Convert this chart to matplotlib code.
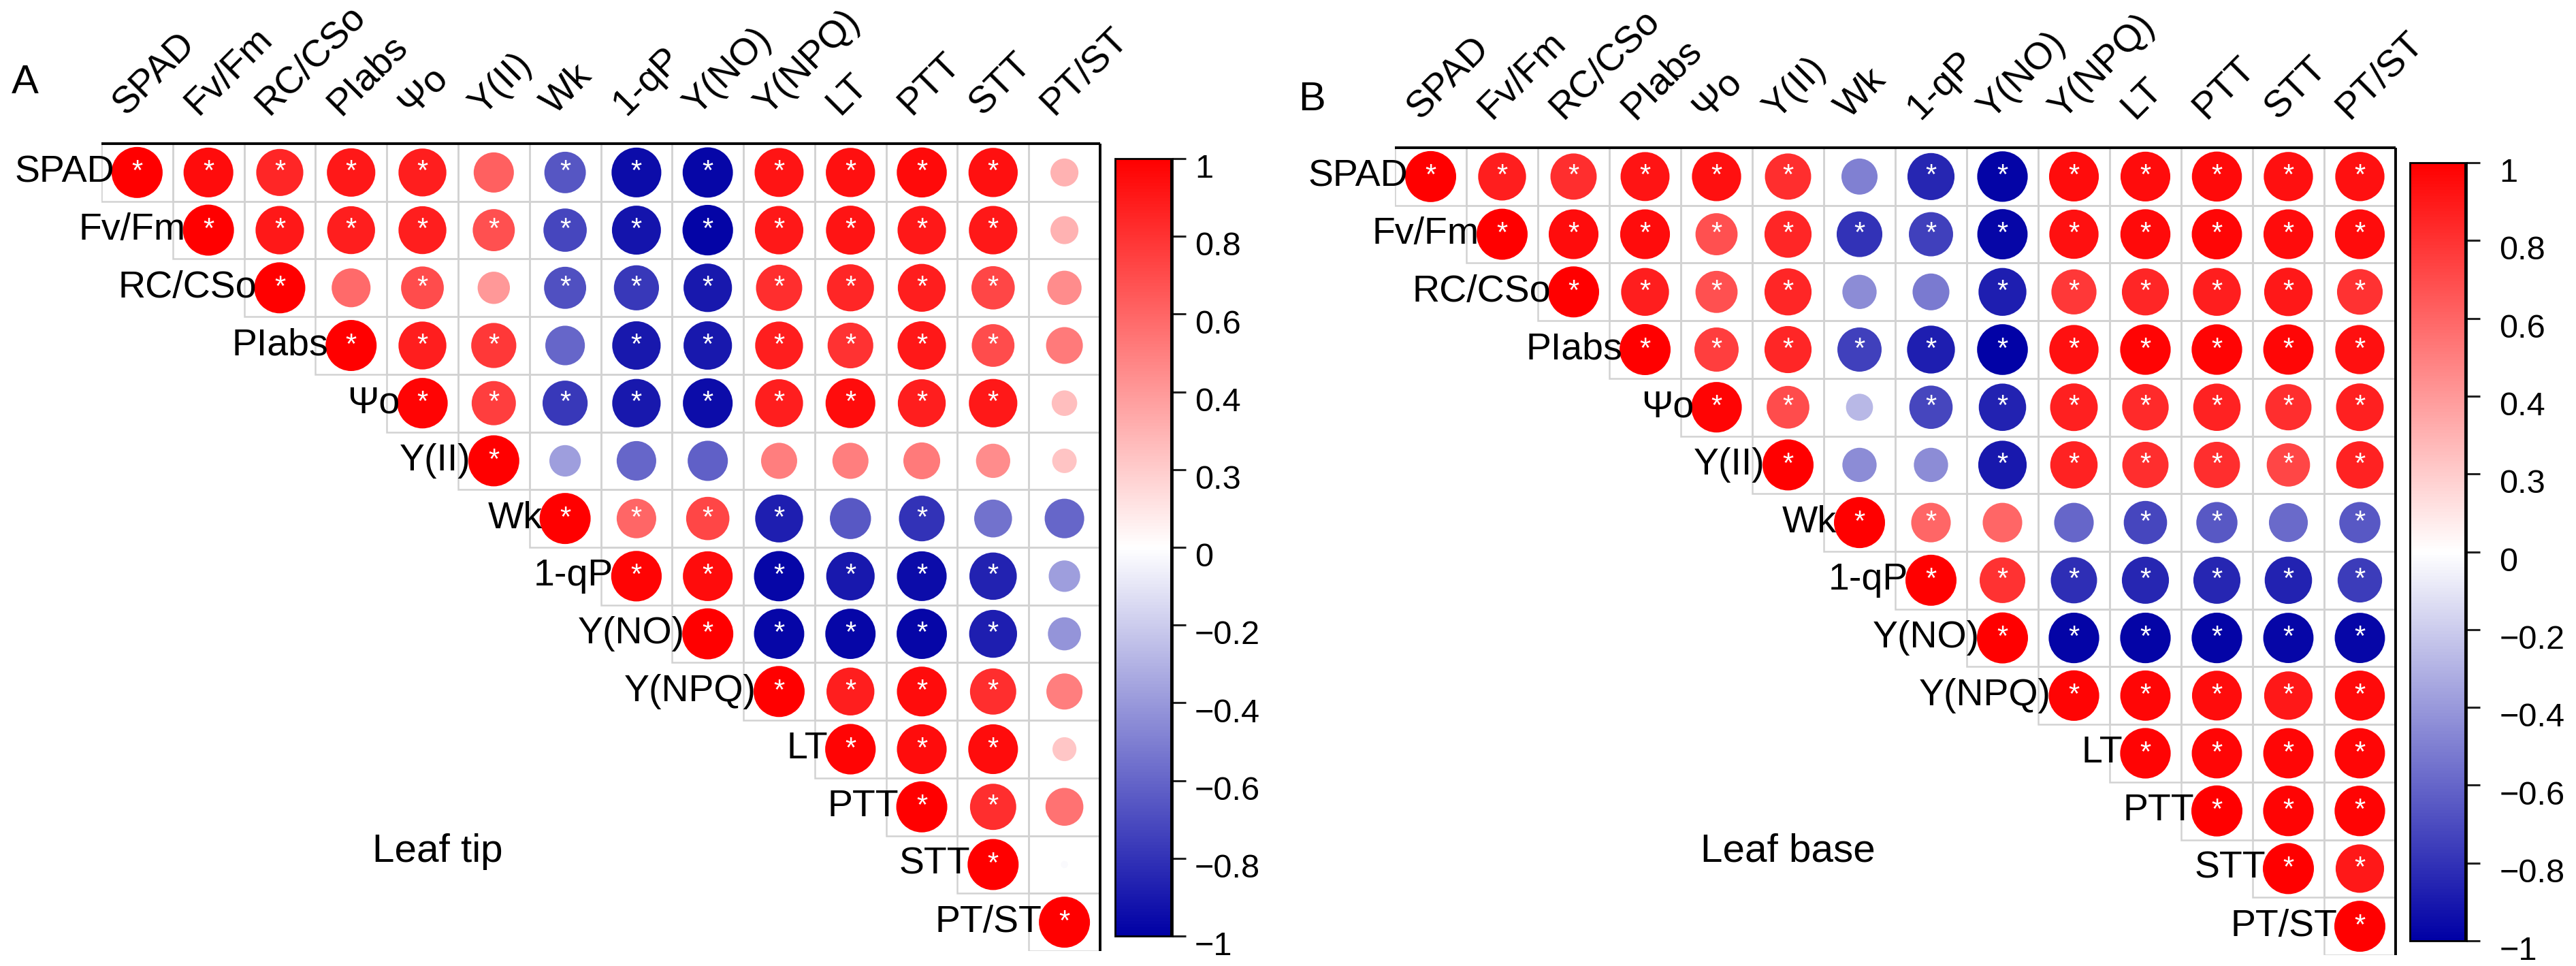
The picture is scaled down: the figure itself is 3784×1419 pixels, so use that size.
import numpy as np
import matplotlib
matplotlib.use("Agg")
import matplotlib.pyplot as plt
import matplotlib.cm as cm
from matplotlib.colors import LinearSegmentedColormap, Normalize
from matplotlib.patches import Rectangle

plt.rcParams['font.family'] = ['Liberation Sans', 'DejaVu Sans']

# variables (same order on both axes)
names = ["SPAD", "Fv/Fm", "RC/CSo", "PIabs", "Ψo", "Y(II)", "Wk", "1-qP",
         "Y(NO)", "Y(NPQ)", "LT", "PTT", "STT", "PT/ST"]

# upper triangle, row i holds columns i..13
r_tip = [
    [1, 0.95, 0.85, 0.9, 0.88, 0.62, -0.66, -0.95, -0.97, 0.92, 0.93, 0.96, 0.93, 0.3],
    [1, 0.9, 0.88, 0.88, 0.68, -0.72, -0.92, -0.98, 0.9, 0.92, 0.9, 0.9, 0.3],
    [1, 0.58, 0.7, 0.4, -0.68, -0.78, -0.9, 0.82, 0.85, 0.88, 0.72, 0.45],
    [1, 0.88, 0.78, -0.6, -0.9, -0.9, 0.88, 0.8, 0.9, 0.7, 0.52],
    [0.98, 0.75, -0.78, -0.9, -0.95, 0.88, 0.95, 0.88, 0.9, 0.25],
    [1, -0.38, -0.6, -0.62, 0.5, 0.5, 0.52, 0.45, 0.23],
    [1, 0.6, 0.72, -0.88, -0.65, -0.8, -0.55, -0.6],
    [0.98, 0.95, -0.97, -0.9, -0.95, -0.86, -0.38],
    [1, -0.97, -0.97, -0.97, -0.88, -0.42],
    [1, 0.88, 0.95, 0.82, 0.5],
    [0.98, 0.95, 0.95, 0.22],
    [1, 0.82, 0.55],
    [1, -0.02],
    [1],
]
sig_tip = [
    [1, 1, 1, 1, 1, 0, 1, 1, 1, 1, 1, 1, 1, 0],
    [1, 1, 1, 1, 1, 1, 1, 1, 1, 1, 1, 1, 0],
    [1, 0, 1, 0, 1, 1, 1, 1, 1, 1, 1, 0],
    [1, 1, 1, 0, 1, 1, 1, 1, 1, 1, 0],
    [1, 1, 1, 1, 1, 1, 1, 1, 1, 0],
    [1, 0, 0, 0, 0, 0, 0, 0, 0],
    [1, 1, 1, 1, 0, 1, 0, 0],
    [1, 1, 1, 1, 1, 1, 0],
    [1, 1, 1, 1, 1, 0],
    [1, 1, 1, 1, 0],
    [1, 1, 1, 0],
    [1, 1, 0],
    [1, 0],
    [1],
]

r_base = [
    [1, 0.88, 0.82, 0.92, 0.93, 0.82, -0.5, -0.85, -0.98, 0.95, 0.95, 0.96, 0.93, 0.93],
    [1, 0.95, 0.95, 0.68, 0.85, -0.8, -0.75, -0.97, 0.93, 0.96, 0.97, 0.95, 0.95],
    [1, 0.88, 0.68, 0.85, -0.45, -0.52, -0.88, 0.78, 0.85, 0.88, 0.9, 0.8],
    [1, 0.75, 0.85, -0.75, -0.88, -0.99, 0.93, 0.98, 0.98, 0.97, 0.93],
    [0.98, 0.7, -0.28, -0.72, -0.86, 0.87, 0.83, 0.86, 0.82, 0.87],
    [1, -0.45, -0.45, -0.9, 0.86, 0.82, 0.82, 0.72, 0.86],
    [1, 0.6, 0.6, -0.6, -0.72, -0.65, -0.58, -0.65],
    [1, 0.8, -0.82, -0.85, -0.85, -0.86, -0.76],
    [1, -0.98, -0.98, -0.98, -0.97, -0.97],
    [0.98, 0.97, 0.95, 0.9, 0.96],
    [0.98, 0.97, 0.97, 0.97],
    [1, 0.98, 0.98],
    [1, 0.9],
    [1],
]
sig_base = [
    [1, 1, 1, 1, 1, 1, 0, 1, 1, 1, 1, 1, 1, 1],
    [1, 1, 1, 1, 1, 1, 1, 1, 1, 1, 1, 1, 1],
    [1, 1, 1, 1, 0, 0, 1, 1, 1, 1, 1, 1],
    [1, 1, 1, 1, 1, 1, 1, 1, 1, 1, 1],
    [1, 1, 0, 1, 1, 1, 1, 1, 1, 1],
    [1, 0, 0, 1, 1, 1, 1, 1, 1],
    [1, 1, 0, 0, 1, 1, 0, 1],
    [1, 1, 1, 1, 1, 1, 1],
    [1, 1, 1, 1, 1, 1],
    [1, 1, 1, 1, 1],
    [1, 1, 1, 1],
    [1, 1, 1],
    [1, 1],
    [1],
]

cb_ticks = np.linspace(-1, 1, 11)
cb_labels = ["\u22121", "\u22120.8", "\u22120.6", "\u22120.4", "\u22120.2", "0",
             "0.3", "0.4", "0.6", "0.8", "1"]

W, H, DPI = 3784, 1419, 200
fig = plt.figure(figsize=(W / DPI, H / DPI), dpi=DPI)

cmap = LinearSegmentedColormap.from_list("bwr_corr", ["#0000A5", "#FFFFFF", "#FF0000"])
norm = Normalize(-1, 1)


def px_axes(l, t, r, b):
    # axes placed with pixel box (left, top, right, bottom)
    return fig.add_axes([l / W, 1 - b / H, (r - l) / W, (b - t) / H])


def draw_panel(box, rows, sigs):
    ax = px_axes(*box)
    n = len(names)
    ax.set_xlim(-0.5, n - 0.5)
    ax.set_ylim(n - 0.5, -0.5)
    ax.axis("off")

    xs, ys, vs, ss = [], [], [], []
    for i in range(n):
        for k, (v, s) in enumerate(zip(rows[i], sigs[i])):
            j = i + k
            ax.add_patch(Rectangle((j - 0.5, i - 0.5), 1, 1, fill=False,
                                   ec="#D2D2D2", lw=0.9, zorder=1))
            xs.append(j)
            ys.append(i)
            vs.append(v)
            ss.append(s)
    vs = np.array(vs)
    ax.scatter(xs, ys, s=729 * np.abs(vs), c=vs, cmap=cmap, norm=norm,
               lw=0, clip_on=False, zorder=3)
    for x, y, s in zip(xs, ys, ss):
        if s:
            ax.text(x, y, "*", color="white", fontsize=15, ha="center",
                    va="center", zorder=4)

    ax.plot([-0.5, n - 0.5], [-0.5, -0.5], color="black", lw=1.4,
            clip_on=False, solid_capstyle="butt", zorder=5)
    ax.plot([n - 0.5, n - 0.5], [-0.5, n - 0.5], color="black", lw=1.4,
            clip_on=False, solid_capstyle="butt", zorder=5)

    for i, name in enumerate(names):
        ax.text(i - 0.32, i, name, ha="right", va="center", fontsize=20,
                zorder=6, clip_on=False)
        ax.text(i - 0.15, -0.98, name, ha="left", va="baseline", rotation=45,
                rotation_mode="anchor", fontsize=20, clip_on=False)
    return ax


def draw_cbar(box, label_x):
    cax = px_axes(*box)
    cb = fig.colorbar(cm.ScalarMappable(norm=norm, cmap=cmap), cax=cax)
    cb.outline.set_linewidth(1.0)
    cb.outline.set_edgecolor("black")
    cax.axvline(1, color="black", lw=2.2)
    cb.set_ticks(cb_ticks)
    cb.set_ticklabels([""] * len(cb_ticks))
    cax.tick_params(axis="y", length=7.2, width=1.1, color="#222222")
    for t, lab in zip(cb_ticks, cb_labels):
        cax.text(label_x, t + 0.012, lab, transform=cax.get_yaxis_transform(),
                 ha="left", va="top", fontsize=17.5, clip_on=False)
    return cax


draw_panel((149, 211, 1616, 1397), r_tip, sig_tip)
draw_panel((2049, 217, 3519, 1403), r_base, sig_base)
draw_cbar((1638, 233, 1722, 1375), 1.39)
draw_cbar((3540, 239, 3623, 1382), 1.58)

fig.text(17 / W, 1 - 137 / H, "A", ha="left", va="baseline", fontsize=21.5)
fig.text(1907 / W, 1 - 162 / H, "B", ha="left", va="baseline", fontsize=21.5)
fig.text(547 / W, 1 - 1266 / H, "Leaf tip", ha="left", va="baseline", fontsize=21)
fig.text(2498 / W, 1 - 1266 / H, "Leaf base", ha="left", va="baseline", fontsize=21)

fig.savefig("out.png", dpi=DPI, facecolor="white")
